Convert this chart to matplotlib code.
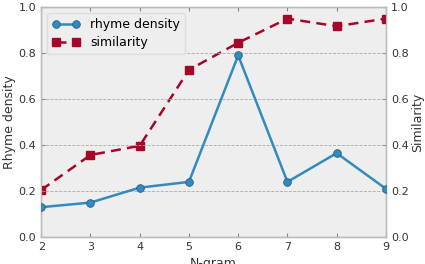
# Rhyme density and similarity per N-gram, two y axes

import matplotlib
matplotlib.use("Agg")
import matplotlib.pyplot as plt

# Data
ngram = [2, 3, 4, 5, 6, 7, 8, 9]
rhyme_density = [0.13, 0.15, 0.215, 0.24, 0.79, 0.24, 0.365, 0.21]
similarity = [0.205, 0.357, 0.397, 0.727, 0.845, 0.95, 0.917, 0.95]

blue = "#348ABD"
red = "#A60628"

fig = plt.figure(figsize=(4.25, 2.64), dpi=100)
ax = fig.add_axes([0.097, 0.102, 0.811, 0.871])
ax2 = ax.twinx()

l1, = ax.plot(ngram, rhyme_density, color=blue, lw=1.8, marker="o",
              markersize=5.5, markeredgecolor="#1f5f8a", markeredgewidth=0.6,
              label="rhyme density", zorder=3)
l2, = ax2.plot(ngram, similarity, color=red, lw=1.8, ls=(0, (4, 2.5)),
               marker="s", markersize=5.5, markeredgecolor=red,
               label="similarity", zorder=3)

for a in (ax, ax2):
    a.set_xlim(2, 9)
    a.set_ylim(0, 1)
    a.set_yticks([0, 0.2, 0.4, 0.6, 0.8, 1.0])
    a.tick_params(labelsize=8, color="#888888", length=3, direction="in",
                  labelcolor="#333333")
    for s in a.spines.values():
        s.set_color("#BBBBBB")

ax.xaxis.set_ticks_position("both")
ax.yaxis.grid(True, ls="--", color="#AAAAAA", lw=0.6)
ax.set_axisbelow(True)

ax.set_ylabel("Rhyme density", fontsize=9, color="#333333", labelpad=2)
ax2.set_ylabel("Similarity", fontsize=9, color="#333333", labelpad=2)
ax.set_xlabel("N-gram", fontsize=9, color="#333333", labelpad=4)

leg = ax.legend([l1, l2], ["rhyme density", "similarity"], loc="upper left",
                fontsize=9, frameon=True, facecolor="#EEEEEE",
                edgecolor="#DDDDDD", framealpha=1, handlelength=2.2,
                borderpad=0.4, labelspacing=0.4, numpoints=2)
leg.set_zorder(5)
ax2.set_zorder(0)
ax.set_zorder(1)
ax.patch.set_visible(False)
fig.patch.set_facecolor("white")
# put background behind both axes
bg = fig.add_axes(ax.get_position(), zorder=-1)
bg.set_facecolor("#EEEEEE")
bg.set_xticks([])
bg.set_yticks([])

fig.savefig("out.png", dpi=100)
